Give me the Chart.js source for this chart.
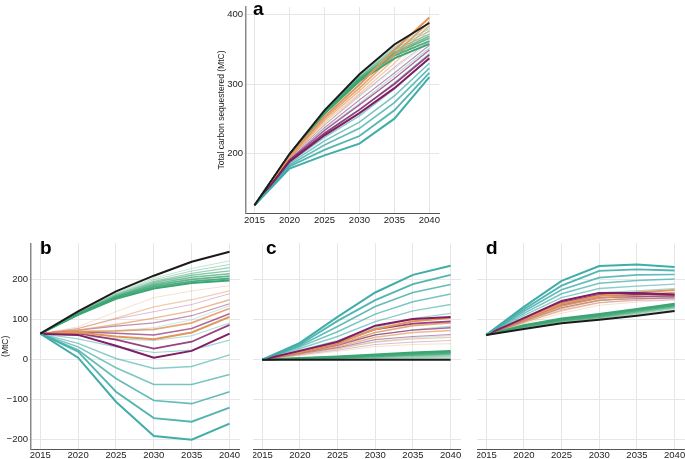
<!DOCTYPE html>
<html>
<head>
<meta charset="utf-8">
<script src="https://cdn.jsdelivr.net/npm/chart.js@4.4.1/dist/chart.umd.min.js"></script>
<style>
  body { margin: 0; background: #fff; width: 685px; height: 459px; overflow: hidden; position: relative; }
  canvas { position: absolute; }
  .tag { position: absolute; font: bold 19px/19px "Liberation Sans", Arial, sans-serif; color: #000; }
</style>
</head>
<body>
<canvas id="ca" width="242" height="230" style="left:210px;top:0"></canvas>
<canvas id="cb" width="240" height="223" style="left:0;top:236px"></canvas>
<canvas id="cc" width="208" height="223" style="left:253px;top:236px"></canvas>
<canvas id="cd" width="208" height="223" style="left:477px;top:236px"></canvas>
<div class="tag" style="left:253px;top:-1px">a</div>
<div class="tag" style="left:40px;top:238px">b</div>
<div class="tag" style="left:266px;top:238px">c</div>
<div class="tag" style="left:486px;top:238px">d</div>
<script>
var years = [2015, 2020, 2025, 2030, 2035, 2040];
var ticksA = [200, 300, 400];
var ticksB = [-200, -100, 0, 100, 200];

// panel a: total carbon sequestered
var aTeal = [
  [125, 178, 197, 214, 250, 310],
  [125, 181, 205, 225, 262, 316],
  [125, 183, 212, 236, 273, 323],
  [125, 185, 218, 245, 283, 330],
  [125, 187, 223, 254, 293, 337],
  [125, 189, 228, 262, 302, 344],
  [125, 191, 234, 272, 312, 352],
  [125, 193, 240, 282, 322, 360]
];
var aPurple = [
  [125, 188, 226, 258, 294, 337],
  [125, 189, 229, 263, 300, 342],
  [125, 190, 233, 270, 308, 349],
  [125, 191, 237, 277, 316, 356],
  [125, 193, 241, 284, 324, 362]
];
var aOrange = [
  [125, 196, 253, 299, 349, 396],
  [125, 195, 250, 294, 342, 390],
  [125, 194, 247, 290, 336, 384],
  [125, 193, 244, 286, 330, 378],
  [125, 192, 241, 282, 324, 372]
];
var aGreen = [
  [125, 198, 257, 304, 337, 358],
  [125, 198, 258, 306, 341, 362],
  [125, 198, 259, 307, 344, 366],
  [125, 199, 259, 308, 346, 369],
  [125, 199, 260, 309, 349, 372],
  [125, 199, 261, 310, 351, 376],
  [125, 199, 261, 311, 353, 380],
  [125, 199, 262, 312, 355, 384]
];
var aBlack = [125, 199, 262, 314, 357, 388];

// panel b
var bTeal = [
  [65, 5, -105, -191, -200, -160],
  [65, 20, -80, -146, -155, -120],
  [65, 24, -47, -102, -110, -80],
  [65, 32, -20, -62, -62, -37],
  [65, 41, 3, -22, -17, 12],
  [65, 52, 32, 18, 24, 49],
  [65, 60, 52, 48, 60, 92],
  [65, 68, 72, 80, 100, 135]
];
var bPurple = [
  [65, 62, 35, 5, 22, 65],
  [65, 66, 50, 28, 45, 87],
  [65, 70, 66, 62, 78, 115],
  [65, 74, 84, 92, 110, 140],
  [65, 78, 102, 120, 138, 165]
];
var bOrange = [
  [65, 68, 58, 51, 68, 107],
  [65, 71, 72, 76, 92, 128],
  [65, 74, 88, 104, 122, 150],
  [65, 78, 104, 132, 150, 172],
  [65, 82, 120, 155, 172, 185]
];
var bGreen = [
  [65, 112, 152, 178, 192, 198],
  [65, 113, 155, 182, 196, 203],
  [65, 114, 157, 186, 201, 209],
  [65, 115, 159, 189, 206, 215],
  [65, 116, 161, 193, 211, 222],
  [65, 117, 163, 196, 216, 230],
  [65, 118, 165, 200, 222, 238],
  [65, 119, 167, 204, 228, 247]
];
var bBlack = [65, 121, 171, 210, 245, 270];

// panel c
var cTeal = [
  [0, 42, 107, 168, 212, 235],
  [0, 38, 97, 149, 189, 212],
  [0, 35, 83, 133, 168, 188],
  [0, 32, 70, 114, 145, 164],
  [0, 28, 58, 95, 122, 138],
  [0, 24, 48, 80, 103, 116],
  [0, 20, 40, 62, 75, 84],
  [0, 16, 30, 45, 55, 60]
];
var cPurple = [
  [0, 22, 45, 85, 102, 107],
  [0, 21, 42, 76, 90, 96],
  [0, 18, 36, 62, 74, 80],
  [0, 15, 30, 50, 58, 63],
  [0, 12, 24, 38, 44, 48]
];
var cOrange = [
  [0, 20, 42, 76, 96, 104],
  [0, 18, 38, 68, 85, 92],
  [0, 16, 32, 56, 68, 73],
  [0, 13, 27, 44, 52, 56],
  [0, 10, 21, 33, 38, 40]
];
var cGreen = [
  [0, 4, 8, 13, 18, 22],
  [0, 3.5, 7, 11, 16, 19],
  [0, 3, 6, 10, 14, 17],
  [0, 2.5, 5, 8, 12, 14],
  [0, 2, 4, 7, 10, 12],
  [0, 1.5, 3, 5, 7, 9],
  [0, 1, 2, 3, 5, 6],
  [0, 0.5, 1, 2, 3, 3]
];
var cBlack = [0, 0, 0, 0, 0, 0];

// panel d
var dTeal = [
  [62, 132, 197, 234, 238, 232],
  [62, 126, 185, 222, 226, 223],
  [62, 121, 175, 205, 212, 213],
  [62, 116, 165, 191, 198, 202],
  [62, 111, 155, 178, 184, 189],
  [62, 106, 146, 168, 172, 178],
  [62, 101, 138, 158, 163, 167],
  [62, 96, 130, 148, 152, 156]
];
var dPurple = [
  [62, 104, 147, 167, 167, 163],
  [62, 102, 142, 162, 164, 162],
  [62, 99, 136, 155, 158, 158],
  [62, 96, 130, 149, 153, 154],
  [62, 93, 124, 143, 148, 150]
];
var dOrange = [
  [62, 102, 140, 160, 168, 174],
  [62, 99, 134, 154, 162, 168],
  [62, 96, 128, 148, 156, 162],
  [62, 93, 122, 142, 150, 156],
  [62, 90, 116, 136, 144, 150]
];
var dGreen = [
  [62, 86, 103, 114, 127, 140],
  [62, 85, 101, 112, 125, 138],
  [62, 84, 100, 110, 123, 136],
  [62, 83, 98, 108, 121, 134],
  [62, 82, 97, 106, 119, 132],
  [62, 81, 95, 105, 117, 130],
  [62, 80, 94, 103, 115, 128],
  [62, 79, 92, 102, 113, 125]
];
var dBlack = [62, 77, 91, 100, 110, 122];

var teal = [64, 173, 168];
var purple = [130, 28, 100];
var orange = [226, 150, 90];
var green = [60, 165, 115];
var fam = "'Liberation Sans', Arial, Helvetica, sans-serif";

function pts(vals) {
  return years.map(function (x, k) { return { x: x, y: vals[k] }; });
}

// strongest line of each family sits on top, faint ones underneath
function buildSets(groups, black) {
  var sets = [];
  groups.forEach(function (g) {
    var lines = g[0], rgb = g[1], n = lines.length;
    lines.forEach(function (vals, i) {
      var t = n > 1 ? i / (n - 1) : 0;
      sets.push({
        rank: i,
        data: pts(vals),
        borderColor: 'rgba(' + rgb.join(',') + ',' + (1 - 0.68 * t).toFixed(2) + ')',
        borderWidth: 2 - 1.1 * t,
        pointRadius: 0,
        tension: 0
      });
    });
  });
  sets.sort(function (p, q) { return p.rank - q.rank; });
  sets.unshift({ data: pts(black), borderColor: '#1b1b1b', borderWidth: 2, pointRadius: 0, tension: 0 });
  return sets;
}

function panel(id, sets, o) {
  new Chart(document.getElementById(id), {
    type: 'line',
    data: { datasets: sets },
    options: {
      responsive: false,
      animation: false,
      devicePixelRatio: 1,
      layout: { padding: { top: o.top, left: 0, right: o.right || 0, bottom: 0 } },
      plugins: { legend: { display: false }, tooltip: { enabled: false } },
      scales: {
        x: {
          type: 'linear',
          min: 2013.78,
          max: 2041.38,
          afterBuildTicks: function (s) { s.ticks = years.map(function (v) { return { value: v }; }); },
          afterFit: function (s) { s.height = o.xh; s.paddingLeft = 0; s.paddingRight = 0; },
          grid: { color: '#e6e6e6', drawTicks: false },
          border: { color: '#555', width: 1 },
          ticks: {
            padding: o.xpad, color: '#222', autoSkip: false, maxRotation: 0,
            font: { size: 9.5, family: fam },
            callback: function (v) { return String(v); }
          }
        },
        y: {
          min: o.ymin,
          max: o.ymax,
          afterBuildTicks: function (s) { s.ticks = o.yticks.map(function (v) { return { value: v }; }); },
          afterFit: function (s) { s.width = o.yw; },
          grid: { color: '#e6e6e6', tickLength: 2 },
          border: { display: o.showY, color: '#8a8a8a', width: 1.5 },
          ticks: {
            display: o.showY, padding: 1, color: '#222',
            font: { size: 9.5, family: fam },
            callback: function (v) { return v < 0 ? '\u2212' + Math.abs(v) : String(v); }
          },
          title: {
            display: !!o.title, text: o.title || '', color: '#222',
            font: { size: 8.5, family: fam },
            padding: { top: o.tpad, bottom: 0 }
          }
        }
      }
    }
  });
}

panel('ca', buildSets([[aTeal, teal], [aPurple, purple], [aOrange, orange], [aGreen, green]], aBlack),
  { top: 7, right: 13, xh: 17, xpad: 2, yw: 36, ymin: 113.9, ymax: 411.1, yticks: ticksA, showY: true,
    title: 'Total carbon sequestered (MtC)', tpad: 6.2 });
panel('cb', buildSets([[bTeal, teal], [bPurple, purple], [bOrange, orange], [bGreen, green]], bBlack),
  { top: 7.3, xh: 9.7, xpad: 0, yw: 31, ymin: -224, ymax: 291, yticks: ticksB, showY: true,
    title: '(MtC)', tpad: 0.7 });
panel('cc', buildSets([[cTeal, teal], [cPurple, purple], [cOrange, orange], [cGreen, green]], cBlack),
  { top: 7.3, xh: 9.7, xpad: 0, yw: 0, ymin: -224, ymax: 291, yticks: ticksB, showY: false });
panel('cd', buildSets([[dTeal, teal], [dPurple, purple], [dOrange, orange], [dGreen, green]], dBlack),
  { top: 7.3, xh: 9.7, xpad: 0, yw: 0, ymin: -224, ymax: 291, yticks: ticksB, showY: false });
</script>
</body>
</html>
